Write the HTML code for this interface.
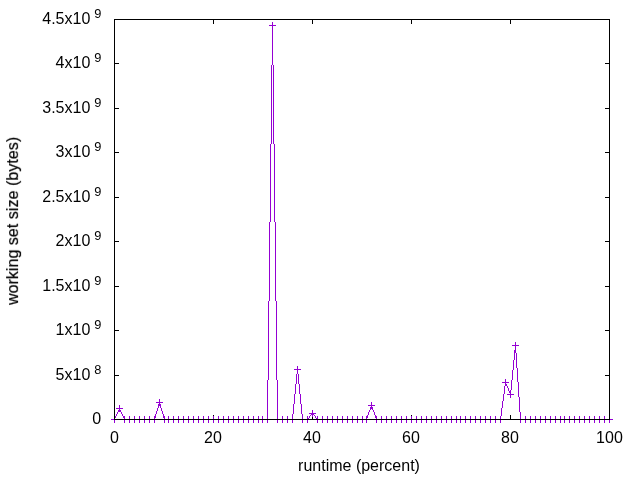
<!DOCTYPE html>
<html><head><meta charset="utf-8"><title>plot</title>
<style>
html,body{margin:0;padding:0;background:#fff;overflow:hidden}
svg{will-change:transform;display:block;position:absolute;left:0;top:0}
text{font-family:"Liberation Sans",sans-serif;font-size:16px;fill:#000}
</style></head><body>
<svg width="640" height="480" viewBox="0 0 640 480">
<rect width="640" height="480" fill="#fff"/>
<path fill="#000" shape-rendering="crispEdges" d="M114 19h5v1h-5zM114 20h1v4h-1zM114 63h5v1h-5zM114 108h5v1h-5zM114 152h5v1h-5zM114 197h5v1h-5zM114 241h5v1h-5zM114 286h5v1h-5zM114 330h5v1h-5zM114 375h5v1h-5zM114 415h1v4h-1zM114 419h5v1h-5zM213 19h1v5h-1zM213 415h1v5h-1zM312 19h1v5h-1zM312 415h1v5h-1zM411 19h1v5h-1zM411 415h1v5h-1zM510 19h1v5h-1zM510 415h1v5h-1zM605 19h5v1h-5zM605 63h5v1h-5zM605 108h5v1h-5zM605 152h5v1h-5zM605 197h5v1h-5zM605 241h5v1h-5zM605 286h5v1h-5zM605 330h5v1h-5zM605 375h5v1h-5zM605 419h5v1h-5zM609 20h1v4h-1zM609 415h1v4h-1z"/>
<path fill="#9400d3" shape-rendering="crispEdges" d="M111 419h7v1h-7zM114 416h1v3h-1zM114 420h1v3h-1zM115 416h1v2h-1zM116 408h7v1h-7zM116 414h1v2h-1zM117 412h1v2h-1zM118 410h3v1h-3zM118 411h3v1h-3zM119 405h1v3h-1zM119 409h1v1h-1zM121 412h1v2h-1zM121 419h37v1h-37zM122 414h1v2h-1zM123 416h1v2h-1zM124 416h1v3h-1zM124 420h1v3h-1zM129 416h1v3h-1zM129 420h1v3h-1zM134 416h1v3h-1zM134 420h1v3h-1zM139 416h1v3h-1zM139 420h1v3h-1zM144 416h1v3h-1zM144 420h1v3h-1zM149 416h1v3h-1zM149 420h1v3h-1zM154 416h1v3h-1zM154 420h1v3h-1zM155 414h1v4h-1zM156 402h7v1h-7zM156 411h1v3h-1zM157 408h1v3h-1zM158 404h3v1h-3zM158 405h3v1h-3zM158 406h1v2h-1zM159 399h1v3h-1zM159 403h1v1h-1zM160 406h1v2h-1zM161 408h1v3h-1zM161 419h110v1h-110zM162 411h1v3h-1zM163 414h1v4h-1zM164 416h1v3h-1zM164 420h1v3h-1zM168 416h1v3h-1zM168 420h1v3h-1zM173 416h1v3h-1zM173 420h1v3h-1zM178 416h1v3h-1zM178 420h1v3h-1zM183 416h1v3h-1zM183 420h1v3h-1zM188 416h1v3h-1zM188 420h1v3h-1zM193 416h1v3h-1zM193 420h1v3h-1zM198 416h1v3h-1zM198 420h1v3h-1zM203 416h1v3h-1zM203 420h1v3h-1zM208 416h1v3h-1zM208 420h1v3h-1zM213 416h1v3h-1zM213 420h1v3h-1zM218 416h1v3h-1zM218 420h1v3h-1zM223 416h1v3h-1zM223 420h1v3h-1zM228 416h1v3h-1zM228 420h1v3h-1zM233 416h1v3h-1zM233 420h1v3h-1zM238 416h1v3h-1zM238 420h1v3h-1zM243 416h1v3h-1zM243 420h1v3h-1zM248 416h1v3h-1zM248 420h1v3h-1zM253 416h1v3h-1zM253 420h1v3h-1zM258 416h1v3h-1zM258 420h1v3h-1zM262 416h1v3h-1zM262 420h1v3h-1zM267 380h1v39h-1zM267 420h1v3h-1zM268 301h1v79h-1zM269 25h7v1h-7zM269 222h1v79h-1zM270 144h1v78h-1zM271 65h1v79h-1zM272 22h1v3h-1zM272 26h1v39h-1zM273 65h1v79h-1zM274 144h1v78h-1zM274 419h22v1h-22zM275 222h1v79h-1zM276 301h1v79h-1zM277 380h1v39h-1zM277 420h1v3h-1zM282 416h1v3h-1zM282 420h1v3h-1zM287 416h1v3h-1zM287 420h1v3h-1zM292 414h1v5h-1zM292 420h1v3h-1zM293 404h1v10h-1zM294 369h7v1h-7zM294 394h1v10h-1zM295 384h1v10h-1zM296 374h1v10h-1zM297 366h1v3h-1zM297 370h1v4h-1zM298 374h1v10h-1zM299 384h1v10h-1zM299 419h12v1h-12zM300 394h1v10h-1zM301 404h1v10h-1zM302 414h1v5h-1zM302 420h1v3h-1zM307 416h1v3h-1zM307 420h1v3h-1zM308 418h1v1h-1zM309 413h7v1h-7zM309 416h1v2h-1zM310 415h1v1h-1zM311 414h3v1h-3zM312 410h1v3h-1zM312 415h1v2h-1zM314 415h1v1h-1zM314 419h56v1h-56zM315 416h1v2h-1zM316 418h1v1h-1zM317 416h1v3h-1zM317 420h1v3h-1zM322 416h1v3h-1zM322 420h1v3h-1zM327 416h1v3h-1zM327 420h1v3h-1zM332 416h1v3h-1zM332 420h1v3h-1zM337 416h1v3h-1zM337 420h1v3h-1zM342 416h1v3h-1zM342 420h1v3h-1zM347 416h1v3h-1zM347 420h1v3h-1zM352 416h1v3h-1zM352 420h1v3h-1zM357 416h1v3h-1zM357 420h1v3h-1zM362 416h1v3h-1zM362 420h1v3h-1zM366 416h1v3h-1zM366 420h1v3h-1zM367 415h1v3h-1zM368 405h7v1h-7zM368 412h1v3h-1zM369 410h1v2h-1zM370 407h3v1h-3zM370 408h3v1h-3zM370 409h1v1h-1zM371 402h1v3h-1zM371 406h1v1h-1zM372 409h1v1h-1zM373 410h1v2h-1zM373 419h131v1h-131zM374 412h1v3h-1zM375 415h1v3h-1zM376 416h1v3h-1zM376 420h1v3h-1zM381 416h1v3h-1zM381 420h1v3h-1zM386 416h1v3h-1zM386 420h1v3h-1zM391 416h1v3h-1zM391 420h1v3h-1zM396 416h1v3h-1zM396 420h1v3h-1zM401 416h1v3h-1zM401 420h1v3h-1zM406 416h1v3h-1zM406 420h1v3h-1zM411 416h1v3h-1zM411 420h1v3h-1zM416 416h1v3h-1zM416 420h1v3h-1zM421 416h1v3h-1zM421 420h1v3h-1zM426 416h1v3h-1zM426 420h1v3h-1zM431 416h1v3h-1zM431 420h1v3h-1zM436 416h1v3h-1zM436 420h1v3h-1zM441 416h1v3h-1zM441 420h1v3h-1zM446 416h1v3h-1zM446 420h1v3h-1zM451 416h1v3h-1zM451 420h1v3h-1zM456 416h1v3h-1zM456 420h1v3h-1zM460 416h1v3h-1zM460 420h1v3h-1zM465 416h1v3h-1zM465 420h1v3h-1zM470 416h1v3h-1zM470 420h1v3h-1zM475 416h1v3h-1zM475 420h1v3h-1zM480 416h1v3h-1zM480 420h1v3h-1zM485 416h1v3h-1zM485 420h1v3h-1zM490 416h1v3h-1zM490 420h1v3h-1zM495 416h1v3h-1zM495 420h1v3h-1zM500 416h1v3h-1zM500 420h1v3h-1zM501 408h1v8h-1zM502 382h7v1h-7zM502 401h1v7h-1zM503 394h1v7h-1zM504 386h1v8h-1zM505 379h1v3h-1zM505 383h1v3h-1zM506 384h1v2h-1zM507 386h1v2h-1zM507 394h7v1h-7zM508 388h1v3h-1zM509 391h1v2h-1zM510 390h1v4h-1zM510 395h1v3h-1zM511 380h1v10h-1zM512 345h7v1h-7zM512 370h1v10h-1zM513 360h1v10h-1zM514 350h1v10h-1zM515 342h1v3h-1zM515 346h1v7h-1zM516 353h1v15h-1zM517 368h1v14h-1zM517 419h96v1h-96zM518 382h1v15h-1zM519 397h1v15h-1zM520 412h1v7h-1zM520 420h1v3h-1zM525 416h1v3h-1zM525 420h1v3h-1zM530 416h1v3h-1zM530 420h1v3h-1zM535 416h1v3h-1zM535 420h1v3h-1zM540 416h1v3h-1zM540 420h1v3h-1zM545 416h1v3h-1zM545 420h1v3h-1zM550 416h1v3h-1zM550 420h1v3h-1zM555 416h1v3h-1zM555 420h1v3h-1zM560 416h1v3h-1zM560 420h1v3h-1zM564 416h1v3h-1zM564 420h1v3h-1zM569 416h1v3h-1zM569 420h1v3h-1zM574 416h1v3h-1zM574 420h1v3h-1zM579 416h1v3h-1zM579 420h1v3h-1zM584 416h1v3h-1zM584 420h1v3h-1zM589 416h1v3h-1zM589 420h1v3h-1zM594 416h1v3h-1zM594 420h1v3h-1zM599 416h1v3h-1zM599 420h1v3h-1zM604 416h1v3h-1zM604 420h1v3h-1zM609 416h1v3h-1zM609 420h1v3h-1z"/>
<path fill="#000" shape-rendering="crispEdges" d="M114 19h496v1h-496zM114 20h1v399h-1zM114 419h496v1h-496zM609 20h1v399h-1z"/>
<g opacity="0.999">
<text x="101.10" y="424.00" text-anchor="end">0</text>
<text x="90.30" y="380.00" text-anchor="end">5x10</text>
<text x="94.20" y="374.00" style="font-size:12.8px">8</text>
<text x="90.30" y="335.00" text-anchor="end">1x10</text>
<text x="94.20" y="329.00" style="font-size:12.8px">9</text>
<text x="90.30" y="291.00" text-anchor="end">1.5x10</text>
<text x="94.20" y="285.00" style="font-size:12.8px">9</text>
<text x="90.30" y="246.00" text-anchor="end">2x10</text>
<text x="94.20" y="240.00" style="font-size:12.8px">9</text>
<text x="90.30" y="202.00" text-anchor="end">2.5x10</text>
<text x="94.20" y="196.00" style="font-size:12.8px">9</text>
<text x="90.30" y="157.00" text-anchor="end">3x10</text>
<text x="94.20" y="151.00" style="font-size:12.8px">9</text>
<text x="90.30" y="113.00" text-anchor="end">3.5x10</text>
<text x="94.20" y="107.00" style="font-size:12.8px">9</text>
<text x="90.30" y="68.00" text-anchor="end">4x10</text>
<text x="94.20" y="62.00" style="font-size:12.8px">9</text>
<text x="90.30" y="24.00" text-anchor="end">4.5x10</text>
<text x="94.20" y="18.00" style="font-size:12.8px">9</text>
<text x="114.45" y="443.30" text-anchor="middle">0</text>
<text x="212.90" y="443.30" text-anchor="middle">20</text>
<text x="311.90" y="443.30" text-anchor="middle">40</text>
<text x="410.90" y="443.30" text-anchor="middle">60</text>
<text x="509.90" y="443.30" text-anchor="middle">80</text>
<text x="609.45" y="443.30" text-anchor="middle">100</text>
<text x="359.00" y="470.50" text-anchor="middle">runtime (percent)</text>
<text transform="translate(18.10 220.90) rotate(-90)" text-anchor="middle" style="letter-spacing:0.045px;stroke:#000;stroke-width:0.2px">working set size (bytes)</text>
</g>
</svg>
</body></html>
